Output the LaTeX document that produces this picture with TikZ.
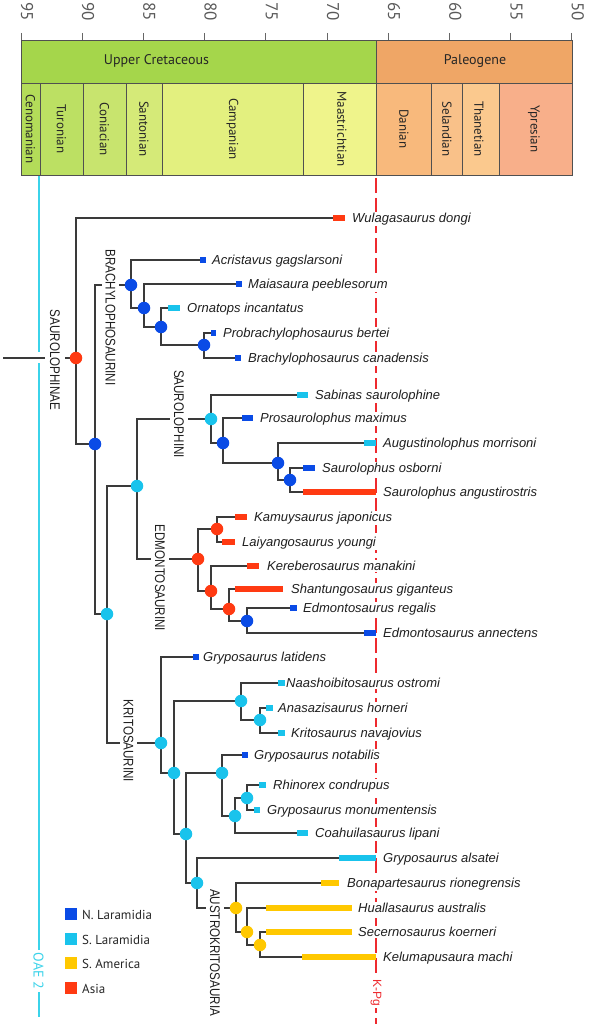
\documentclass[tikz,border=0pt]{standalone}
\usepackage{fontspec}
\setmainfont{Liberation Sans}
\newfontfamily\myr{PT Sans}
\newfontfamily\cladef[FakeStretch=0.83]{Liberation Sans}
\pgfdeclarelayer{bg}
\pgfsetlayers{bg,main}
\definecolor{nlar}{HTML}{0A4BE6}
\definecolor{slar}{HTML}{19C3EC}
\definecolor{samer}{HTML}{FFC800}
\definecolor{asia}{HTML}{FF3A12}
\definecolor{edgec}{HTML}{3A3A3A}
\definecolor{kpg}{HTML}{EE2A2F}
\definecolor{oae}{HTML}{3BD3EA}
\definecolor{cUK}{HTML}{A5D64B}
\definecolor{cPg}{HTML}{EFA666}
\definecolor{cCen}{HTML}{B3DC59}
\definecolor{cTur}{HTML}{BCE063}
\definecolor{cCon}{HTML}{C8E46E}
\definecolor{cSan}{HTML}{D5EA78}
\definecolor{cCam}{HTML}{E3F07F}
\definecolor{cMaa}{HTML}{EFF48B}
\definecolor{cDan}{HTML}{F8B97C}
\definecolor{cSel}{HTML}{F9C189}
\definecolor{cTha}{HTML}{FBC98E}
\definecolor{cYpr}{HTML}{F8AF8A}
\definecolor{bandline}{HTML}{505050}
\tikzset{
  treeline/.style={draw=edgec, line width=1.2pt},
  innernode/.style={circle, minimum size=12.5pt, inner sep=0pt, draw=none},
  taxon/.style={anchor=base west, font=\itshape\fontsize{13}{15}\selectfont, fill=white, inner sep=1pt, text=black!88},
  clade/.style={rotate=-90, font=\cladef\fontsize{14}{16}\selectfont, fill=white, inner xsep=0pt, inner ysep=4pt, text=black!88},
  numlab/.style={rotate=-90, anchor=base, font=\myr\fontsize{17}{17}\selectfont, text=black!65, inner sep=0pt},
  stagelab/.style={rotate=-90, font=\myr\fontsize{13}{15}\selectfont, text=black!85, inner sep=0pt},
  eralab/.style={font=\myr\fontsize{14}{16}\selectfont, text=black!85, inner sep=0pt},
  band/.style={draw=bandline, line width=0.9pt},
  legsq/.style={minimum size=12pt, inner sep=0pt, draw=none},
  legtext/.style={anchor=west, font=\myr\fontsize{13}{15}\selectfont, text=black!85, inner sep=0pt},
}
\newcommand\inn[4]{\node[innernode, fill=#4] (#1) at (#2,#3) {};}
\newcommand\link[2]{\begin{pgfonlayer}{bg}\draw[treeline] (#1) |- (#2);\end{pgfonlayer}}
% name, parent, y, bar start, bar end, colour, label x, text
\newcommand\tax[8]{%
  \coordinate (#1) at (#4,#3);
  \begin{pgfonlayer}{bg}\draw[treeline] (#2) |- (#1);\end{pgfonlayer}
  \path[fill=#6] (#4,#3-2.6) rectangle (#5,#3+2.6);
  \node[taxon] (#1l) at (#7-1,#3+4.5) {#8};
}
\begin{document}
\begin{tikzpicture}[x=1pt,y=-1pt]
\useasboundingbox (0,0) rectangle (590,1024);
% ---------- time scale ----------
\foreach \a in {95,90,...,50} {
  \pgfmathsetmacro\tx{21+(95-\a)*12.24}
  \draw[draw=black!60, line width=0.9pt] (\tx,33) -- (\tx,40);
  \node[numlab] (num\a) at (\tx,12) {\a};
}
\path[band, fill=cUK] (21,40) rectangle (376,83);
\path[band, fill=cPg] (376,40) rectangle (572,83);
\node[eralab] (uk) at (156.5,61) {Upper Cretaceous};
\node[eralab] (pg) at (475,61) {Paleogene};
\foreach \xa/\xb/\nm/\col/\cx in {21/40/Cenomanian/cCen/30.5, 40/83/Turonian/cTur/61.5, 83/126/Coniacian/cCon/104.5, 126/162/Santonian/cSan/144, 162/303/Campanian/cCam/232.5, 303/376/Maastrichtian/cMaa/342, 376/431/Danian/cDan/404, 431/462/Selandian/cSel/447, 462/499/Thanetian/cTha/479, 499/572/Ypresian/cYpr/534} {
  \path[band, fill=\col] (\xa,83) rectangle (\xb,175);
  \node[stagelab] (st\nm) at (\cx,129) {\nm};
}
% ---------- K-Pg and OAE 2 lines ----------
\begin{pgfonlayer}{bg}
\draw[kpg, line width=2.4pt, dash pattern=on 15pt off 5pt] (376,178) -- (376,1024);
\draw[oae, line width=2pt] (38.5,176) -- (38.5,352);
\draw[oae, line width=2pt] (38.5,363) -- (38.5,1017);
\end{pgfonlayer}
\node[rotate=-90, fill=white, inner xsep=2pt, inner ysep=1pt, text=kpg, font=\fontsize{12}{14}\selectfont] (kpgl) at (376,993) {K-Pg};
\node[rotate=-90, fill=white, inner xsep=3pt, inner ysep=1pt, text=oae, font=\myr\fontsize{14}{16}\selectfont] (oael) at (38.5,971) {OAE 2};
% ---------- internal nodes ----------
\inn{R}{76}{358}{asia}
\inn{A}{95}{444}{nlar}
\inn{B}{131}{285}{nlar}
\inn{D}{144}{308}{nlar}
\inn{E}{161}{327}{nlar}
\inn{F}{204}{345}{nlar}
\inn{C}{107}{614}{slar}
\inn{G}{137}{486}{slar}
\inn{H}{211}{419}{slar}
\inn{J}{223}{443}{nlar}
\inn{K}{278}{463}{nlar}
\inn{L}{290}{480}{nlar}
\inn{I}{198}{559}{asia}
\inn{M}{217}{529}{asia}
\inn{N}{211}{591}{asia}
\inn{O}{229}{609}{asia}
\inn{P}{247}{621}{nlar}
\inn{Q}{161}{743}{slar}
\inn{RR}{174}{773}{slar}
\inn{S}{241}{701}{slar}
\inn{U}{260}{720}{slar}
\inn{T}{186}{834}{slar}
\inn{V}{222}{773}{slar}
\inn{X}{235}{816}{slar}
\inn{Y}{247}{798}{slar}
\inn{W}{197}{883}{slar}
\inn{Z}{236}{908}{samer}
\inn{AA}{247}{932}{samer}
\inn{AB}{260}{945}{samer}
% ---------- internal links ----------
\coordinate (stub) at (3,358);
\begin{pgfonlayer}{bg}\draw[treeline] (stub) -- (R);\end{pgfonlayer}
\link{R}{A}
\link{A}{B}
\link{B}{D}
\link{D}{E}
\link{E}{F}
\link{A}{C}
\link{C}{G}
\link{G}{H}
\link{H}{J}
\link{J}{K}
\link{K}{L}
\link{G}{I}
\link{I}{M}
\link{I}{N}
\link{N}{O}
\link{O}{P}
\link{C}{Q}
\link{Q}{RR}
\link{RR}{S}
\link{S}{U}
\link{RR}{T}
\link{T}{V}
\link{V}{X}
\link{X}{Y}
\link{T}{W}
\link{W}{Z}
\link{Z}{AA}
\link{AA}{AB}
% ---------- tips ----------
\tax{wul}{R}{218}{333}{345}{asia}{352}{Wulagasaurus dongi}
\tax{acr}{B}{260}{200}{206}{nlar}{212}{Acristavus gagslarsoni}
\tax{mai}{D}{284}{236}{242}{nlar}{248}{Maiasaura peeblesorum}
\tax{orn}{E}{308}{168}{180}{slar}{187}{Ornatops incantatus}
\tax{pro}{F}{333}{211}{216}{nlar}{223}{Probrachylophosaurus bertei}
\tax{bra}{F}{358}{235}{241}{nlar}{248}{Brachylophosaurus canadensis}
\tax{sab}{H}{395}{297}{308}{slar}{315}{Sabinas saurolophine}
\tax{prs}{J}{418}{242}{253}{nlar}{260}{Prosaurolophus maximus}
\tax{aug}{K}{443}{364}{376}{slar}{383}{Augustinolophus morrisoni}
\tax{sos}{L}{468}{303}{315}{nlar}{322}{Saurolophus osborni}
\tax{san}{L}{492}{303}{376}{asia}{383}{Saurolophus angustirostris}
\tax{kam}{M}{517}{235}{247}{asia}{254}{Kamuysaurus japonicus}
\tax{lai}{M}{542}{222}{235}{asia}{242}{Laiyangosaurus youngi}
\tax{ker}{N}{566}{247}{259}{asia}{267}{Kereberosaurus manakini}
\tax{sha}{O}{589}{235}{283}{asia}{291}{Shantungosaurus giganteus}
\tax{ere}{P}{608}{290}{297}{nlar}{303}{Edmontosaurus regalis}
\tax{ean}{P}{633}{364}{376}{nlar}{383}{Edmontosaurus annectens}
\tax{lat}{Q}{657}{193}{199}{nlar}{203}{Gryposaurus latidens}
\tax{naa}{S}{683}{278}{285}{slar}{286}{Naashoibitosaurus ostromi}
\tax{ana}{U}{708}{266}{273}{slar}{278}{Anasazisaurus horneri}
\tax{kri}{U}{733}{278}{285}{slar}{291}{Kritosaurus navajovius}
\tax{not}{V}{755}{242}{248}{nlar}{254}{Gryposaurus notabilis}
\tax{rhi}{Y}{785}{259}{266}{slar}{273}{Rhinorex condrupus}
\tax{mon}{Y}{810}{254}{260}{slar}{267}{Gryposaurus monumentensis}
\tax{coa}{X}{833}{297}{308}{slar}{315}{Coahuilasaurus lipani}
\tax{als}{W}{858}{339}{376}{slar}{383}{Gryposaurus alsatei}
\tax{bon}{Z}{883}{321}{339}{samer}{347}{Bonapartesaurus rionegrensis}
\tax{hua}{AA}{908}{266}{352}{samer}{358}{Huallasaurus australis}
\tax{sec}{AB}{932}{266}{352}{samer}{358}{Secernosaurus koerneri}
\tax{kel}{AB}{957}{302}{376}{samer}{383}{Kelumapusaura machi}
% ---------- clade labels ----------
\node[clade, inner ysep=5pt] (lsaurolophinae) at (55,360) {SAUROLOPHINAE};
\node[clade] (lbrachy) at (110.5,317.5) {BRACHYLOPHOSAURINI};
\node[clade] (lsauroph) at (179,414) {SAUROLOPHINI};
\node[clade] (ledmont) at (160,578) {EDMONTOSAURINI};
\node[clade] (lkrito) at (128.5,741) {KRITOSAURINI};
\node[clade] (laustro) at (215,952.5) {AUSTROKRITOSAURIA};
% ---------- legend ----------
\foreach \i/\c/\t in {0/nlar/N. Laramidia, 1/slar/S. Laramidia, 2/samer/S. America, 3/asia/Asia} {
  \node[legsq, fill=\c] (lq\i) at (71,914+\i*24.6) {};
  \node[legtext] (lt\i) at (82,915+\i*24.6) {\t};
}
\end{tikzpicture}
\end{document}
